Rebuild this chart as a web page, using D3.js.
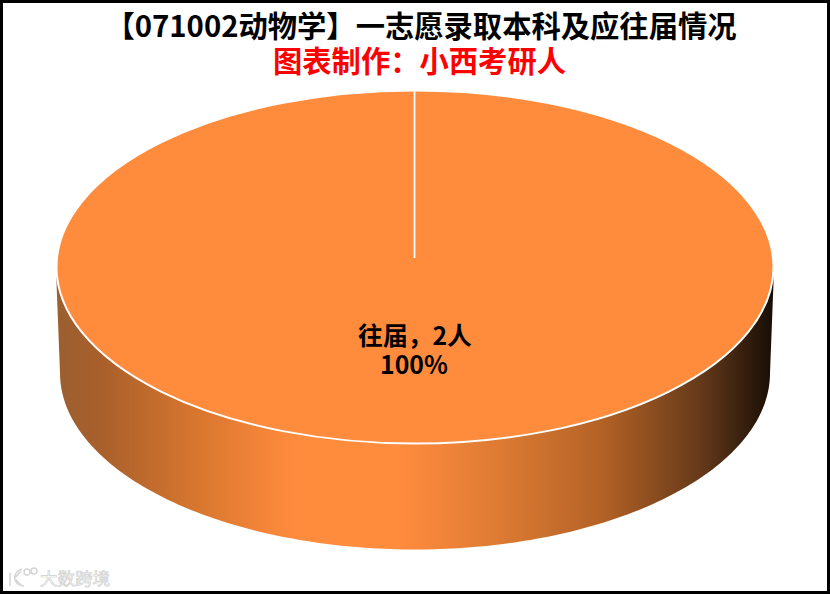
<!DOCTYPE html>
<html><head><meta charset="utf-8">
<script src="https://cdn.jsdelivr.net/npm/d3@7"></script>
<style>html,body{margin:0;padding:0;background:#fff}svg{display:block}text{font-family:"Noto Sans CJK SC","Noto Sans",sans-serif}</style>
</head><body><svg id="c" width="830" height="594"></svg>
<script>
const categories=["往届"];
const values=[2];
const unit="人";
const titleText="【071002动物学】一志愿录取本科及应往届情况";
const subtitleText="图表制作\uFF1A小西考研人";
const labelSep="\uFF0C";
const watermarkText="大数跨境";
const sideStops=[[0,"#9c5f30"],[0.06,"#a85f2b"],[0.2,"#d9772f"],[0.33,"#ff8b3d"],[0.48,"#ff8b3d"],[0.62,"#dc7a33"],[0.76,"#b46226"],[0.9,"#64391a"],[1,"#170d05"]];

const W=830,H=594,svg=d3.select("#c");
const cx=415,topCy=267,rx=358.5,ry=176.5,apexY=258,botCy=373,botRx=355,sideTop=283;
const total=d3.sum(values);
const pie=d3.pie().sort(null).startAngle(0).endAngle(2*Math.PI);
const arcs=pie(values);
const arc=d3.arc().innerRadius(0).outerRadius(rx);

svg.append("rect").attr("x",1.5).attr("y",1.5).attr("width",W-3).attr("height",H-3).attr("fill","#fff").attr("stroke","#000").attr("stroke-width",3);

const g=svg.append("linearGradient").attr("id","side").attr("gradientUnits","userSpaceOnUse")
 .attr("x1",cx-rx).attr("x2",cx+rx).attr("y1",0).attr("y2",0);
g.selectAll("stop").data(sideStops).join("stop").attr("offset",d=>d[0]).attr("stop-color",d=>d[1]);

// side wall: lower half of the slice outline, extruded downward
const ang=d3.range(0,181).map(d=>d*Math.PI/180);
const bot=d3.line()(ang.map(a=>[cx-botRx*Math.cos(a),botCy+ry*Math.sin(a)]));
svg.append("path").attr("fill","url(#side)")
 .attr("d",`M${cx-rx},${topCy}L${cx-rx},${sideTop}`+bot.replace(/^M/,"L")+`L${cx+rx},${sideTop}L${cx+rx},${topCy}Z`);

// top face drawn by d3.arc, flattened into an ellipse
const face=svg.append("g").attr("transform",`translate(${cx},${topCy}) scale(1,${ry/rx})`);
face.selectAll("path").data(arcs).join("path")
 .attr("d",arc).attr("fill","#ff8b3d").attr("stroke","#fff").attr("stroke-width",2)
 .attr("vector-effect","non-scaling-stroke");

// slice seam from the rim to the pie apex
arcs.forEach(a=>{
 const x=cx+rx*Math.sin(a.startAngle), y=topCy-ry*Math.cos(a.startAngle);
 svg.append("line").attr("x1",x-0.5).attr("x2",cx-0.5).attr("y1",y).attr("y2",apexY).attr("stroke","#fff").attr("stroke-width",1.8);
});

const twoLines=(a,b,xa,xb,y1,y2,size,fa,fb)=>{
 const t=svg.append("text").attr("text-anchor","middle").attr("font-size",size).attr("font-weight",700);
 t.append("tspan").attr("x",xa).attr("y",y1).attr("fill",fa).text(a);
 t.append("tspan").attr("x",xb).attr("y",y2).attr("fill",fb).text(b);
};
twoLines(titleText,subtitleText,421,419.5,37,72,29.3,"#000","#f00");
categories.forEach((c,i)=>{
 twoLines(`${c}${labelSep}${values[i]}${unit}`,d3.format(".0%")(values[i]/total),415,414,345,374,24.8,"#000","#000");
});

// faint watermark
const wm=svg.append("g").attr("fill","none").attr("stroke","#d6d6d6").attr("stroke-width",1.6);
wm.append("path").attr("d","M10,573L10,586M22,569C12,572 12,585 24,586M15,578L21,571M15,579L21,585");
wm.append("circle").attr("cx",27).attr("cy",572).attr("r",3);
wm.append("circle").attr("cx",34).attr("cy",571).attr("r",3);
svg.append("text").attr("x",40).attr("y",585).attr("font-size",17.5).attr("fill","#fff").attr("stroke","#cfcfcf").attr("stroke-width",0.7).text(watermarkText);
</script></body></html>
